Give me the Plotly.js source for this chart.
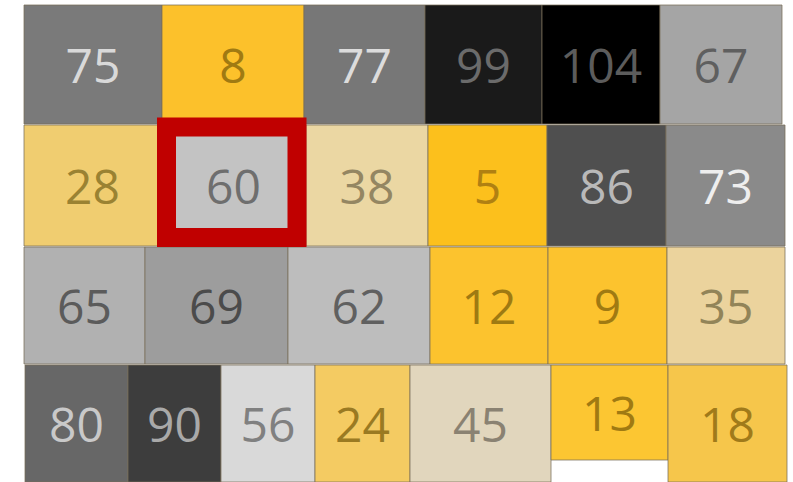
<!DOCTYPE html>
<html>
<head>
<meta charset="utf-8">
<script src="https://cdn.plot.ly/plotly-3.0.1.min.js"></script>
<style>html,body{margin:0;padding:0;background:#fff;}#chart{width:793px;height:482px;}</style>
</head>
<body>
<div id="chart"></div>
<script>
// Tile values, row by row
const row1Values = [75, 8, 77, 99, 104, 67];
const row2Values = [28, 60, 38, 5, 86, 73];
const row3Values = [65, 69, 62, 12, 9, 35];
const row4Values = [80, 90, 56, 24, 45, 13, 18];
const rowValues = [row1Values, row2Values, row3Values, row4Values];

// Tile grid (column edges per row, row top/bottom) in grid units
const row1Edges = [24, 162, 304, 425, 542, 660, 782];
const row2Edges = [24, 161, 306, 428, 547, 666, 785];
const row3Edges = [24, 145, 288, 430, 548, 667, 785];
const row4Edges = [25, 128, 221, 315, 410, 551, 668, 787];
const rowEdges = [row1Edges, row2Edges, row3Edges, row4Edges];
const rowTops = [5, 125, 247, 365];
const rowBottoms = [124, 246, 364, 482];
const row4CellBottoms = [482, 482, 482, 482, 482, 460, 482];

// Fill colours
const row1Fill = ['#7a7a7a', '#fcc12b', '#777777', '#1a1a1a', '#000000', '#a5a5a5'];
const row2Fill = ['#f0cd70', '#c3c3c3', '#ebd7a3', '#fcc01c', '#4f4f4f', '#8a8a8a'];
const row3Fill = ['#b1b1b1', '#9d9d9d', '#bdbdbd', '#fcc32e', '#fcc32e', '#ebd39d'];
const row4Fill = ['#676767', '#3d3d3d', '#d9d9d9', '#f4cb62', '#e1d6bd', '#fcc632', '#f6c64b'];
const rowFill = [row1Fill, row2Fill, row3Fill, row4Fill];

// Label colours
const row1Text = ['#d9d9d9', '#a07a12', '#dcdcdc', '#6b6b6b', '#5c5c5c', '#5f5f5f'];
const row2Text = ['#9a8232', '#6e6e6e', '#948662', '#b08012', '#b9b9b9', '#eeeeee'];
const row3Text = ['#5b5b5b', '#4b4b4b', '#606060', '#9e7a12', '#a07a12', '#928458'];
const row4Text = ['#c9c9c9', '#a9a9a9', '#808080', '#9a7a22', '#8a8272', '#a07a12', '#a07a1a'];
const rowText = [row1Text, row2Text, row3Text, row4Text];

// Highlighted tile (row, column)
const highlightRow = 1, highlightCol = 1;

const shapes = [];
const lx = [], ly = [], lt = [], lc = [];
rowValues.forEach((vals, r) => {
  const edges = rowEdges[r];
  vals.forEach((v, c) => {
    const x0 = edges[c], x1 = edges[c + 1];
    const y0 = rowTops[r];
    const y1 = (r === 3) ? row4CellBottoms[c] : rowBottoms[r];
    shapes.push({
      type: 'rect', xref: 'x', yref: 'y', x0: x0, x1: x1, y0: y0, y1: y1,
      fillcolor: rowFill[r][c], line: {color: 'rgba(120,110,90,0.75)', width: 1}, layer: 'below'
    });
    lx.push((x0 + x1) / 2);
    ly.push((y0 + y1) / 2 + 6);
    lt.push(String(v));
    lc.push(rowText[r][c]);
  });
});

// Highlight box around selected tile
{
  const e = rowEdges[highlightRow];
  shapes.push({
    type: 'rect', xref: 'x', yref: 'y',
    x0: e[highlightCol] + 5.5, x1: e[highlightCol + 1] - 9,
    y0: rowTops[highlightRow] + 2, y1: rowBottoms[highlightRow] - 8.5,
    fillcolor: 'rgba(0,0,0,0)', line: {color: '#c00000', width: 19}, layer: 'above'
  });
}

const trace = {
  type: 'scatter', mode: 'text', x: lx, y: ly, text: lt,
  textposition: 'middle center',
  textfont: {family: 'Open Sans, sans-serif', size: 48, color: lc},
  hoverinfo: 'skip', showlegend: false
};

const layout = {
  width: 793, height: 482,
  margin: {l: 0, r: 0, t: 0, b: 0},
  paper_bgcolor: '#ffffff', plot_bgcolor: '#ffffff',
  xaxis: {range: [0, 793], visible: false, fixedrange: true},
  yaxis: {range: [482, 0], visible: false, fixedrange: true},
  shapes: shapes,
  showlegend: false
};

Plotly.newPlot('chart', [trace], layout, {displayModeBar: false, staticPlot: true});
</script>
</body>
</html>
